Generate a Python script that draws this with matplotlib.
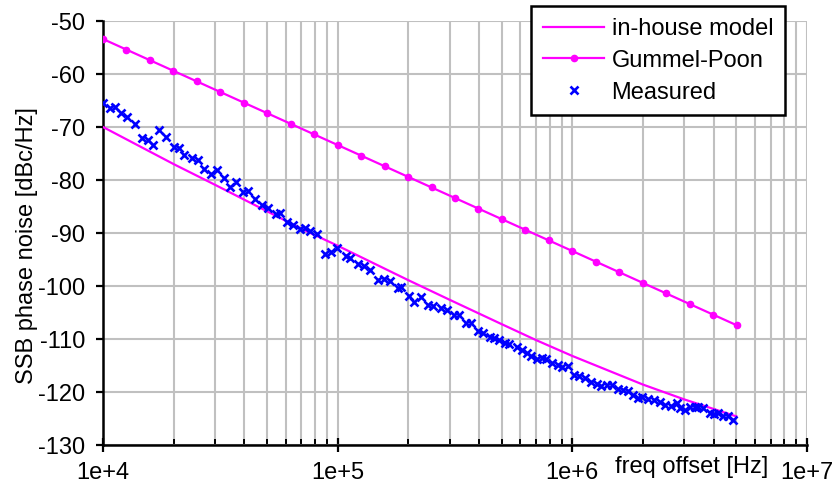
import matplotlib
matplotlib.use("Agg")
import matplotlib.pyplot as plt
from matplotlib.ticker import FixedLocator, NullFormatter

plt.rcParams["font.family"] = ["Liberation Sans", "DejaVu Sans"]
plt.rcParams["axes.unicode_minus"] = False

# Gummel-Poon simulation (one point every 0.1 decade)
gp_freq = [1e4 * 10 ** (k / 10) for k in range(28)]
gp_noise = [-53.4, -55.4, -57.4, -59.4, -61.4, -63.4, -65.4, -67.4, -69.4, -71.4,
            -73.4, -75.4, -77.4, -79.4, -81.4, -83.4, -85.4, -87.4, -89.4, -91.4,
            -93.4, -95.4, -97.4, -99.4, -101.4, -103.4, -105.4, -107.4]

# in-house model
model_freq = [1e4, 2e4, 3e4, 5e4, 7e4, 1e5, 2e5, 3e5, 5e5, 7e5,
              1e6, 2e6, 3e6, 4e6, 5e6]
model_noise = [-70.0, -77.0, -80.9, -85.9, -89.2, -92.4, -98.9, -102.6, -107.2, -110.2,
               -113.2, -118.6, -121.4, -123.2, -124.6]

# measured
meas_freq = [1.00e4, 1.07e4, 1.12e4, 1.19e4, 1.27e4, 1.37e4, 1.46e4, 1.55e4, 1.64e4, 1.74e4,
             1.86e4, 2.00e4, 2.10e4, 2.22e4, 2.39e4, 2.55e4, 2.70e4, 2.88e4, 3.05e4, 3.28e4,
             3.48e4, 3.69e4, 3.94e4, 4.16e4, 4.44e4, 4.75e4, 5.06e4, 5.46e4, 5.68e4, 6.10e4,
             6.47e4, 6.91e4, 7.26e4, 7.62e4, 8.19e4, 8.83e4, 9.33e4, 9.91e4, 1.08e5, 1.13e5,
             1.22e5, 1.30e5, 1.37e5, 1.49e5, 1.58e5, 1.67e5, 1.80e5, 1.86e5, 2.01e5, 2.12e5,
             2.26e5, 2.43e5, 2.55e5, 2.75e5, 2.91e5, 3.13e5, 3.30e5, 3.52e5, 3.69e5, 3.97e5,
             4.15e5, 4.46e5, 4.64e5, 4.89e5, 5.17e5, 5.39e5, 5.79e5, 6.08e5, 6.43e5, 6.64e5,
             7.04e5, 7.40e5, 7.72e5, 8.17e5, 8.71e5, 9.05e5, 9.55e5, 1.02e6, 1.07e6, 1.13e6,
             1.20e6, 1.27e6, 1.33e6, 1.40e6, 1.48e6, 1.57e6, 1.65e6, 1.73e6, 1.82e6, 1.91e6,
             1.99e6, 2.11e6, 2.23e6, 2.36e6, 2.48e6, 2.63e6, 2.78e6, 2.87e6, 3.01e6, 3.17e6,
             3.33e6, 3.44e6, 3.61e6, 3.86e6, 4.03e6, 4.19e6, 4.40e6, 4.59e6, 4.85e6]
meas_noise = [-65.4, -66.5, -66.3, -67.3, -68.1, -69.4, -72.1, -72.5, -73.4, -70.6,
              -71.9, -73.8, -74.0, -75.3, -75.9, -76.2, -78.0, -78.9, -78.2, -79.7,
              -81.3, -80.3, -82.2, -82.1, -83.6, -84.8, -85.3, -86.5, -86.3, -87.9,
              -88.5, -89.3, -89.1, -89.6, -90.2, -94.0, -93.6, -92.9, -94.3, -94.8,
              -95.9, -96.2, -97.0, -98.9, -98.7, -99.1, -100.3, -100.1, -101.8, -103.0,
              -102.0, -103.5, -103.7, -104.1, -104.5, -105.5, -105.5, -106.9, -107.0, -108.5,
              -108.9, -109.6, -109.9, -110.2, -110.8, -111.0, -111.6, -112.1, -112.7, -113.2,
              -113.8, -113.5, -113.8, -114.6, -114.9, -115.2, -115.0, -116.7, -116.9, -117.3,
              -118.1, -118.5, -118.8, -118.7, -118.7, -119.4, -119.6, -119.9, -120.6, -121.1,
              -120.9, -121.3, -121.5, -121.8, -122.5, -122.6, -122.1, -123.1, -123.4, -122.9,
              -122.8, -122.9, -123.1, -123.9, -124.2, -124.0, -124.5, -124.5, -125.3]

x_ticks = [1e4, 1e5, 1e6, 1e7]
x_tick_labels = ["1e+4", "1e+5", "1e+6", "1e+7"]
y_ticks = list(range(-130, -49, 10))

FS = 17
MAGENTA = "#ff00ff"
BLUE = "#0000ff"
GRID = "#c0c0c0"

fig = plt.figure(figsize=(8.33, 4.95), dpi=100)
ax = fig.add_axes([103 / 833, 1 - 445 / 495, 704 / 833, 424 / 495])

ax.plot(model_freq, model_noise, color=MAGENTA, lw=1.6, label="in-house model", zorder=3)
ax.plot(gp_freq, gp_noise, color=MAGENTA, lw=1.6, marker="o", ms=4.5,
        label="Gummel-Poon", zorder=3)
ax.plot(meas_freq, meas_noise, ls="none", marker="x", color=BLUE, ms=5.5, mew=1.9,
        label="Measured", zorder=4)

ax.set_xscale("log")
ax.set_xlim(1e4, 1e7)
ax.set_ylim(-130, -50)
ax.set_xticks(x_ticks)
ax.set_xticklabels(x_tick_labels)
ax.xaxis.set_minor_locator(FixedLocator([m * 10 ** e for e in (4, 5, 6) for m in range(2, 10)]))
ax.xaxis.set_minor_formatter(NullFormatter())
ax.set_yticks(y_ticks)

ax.grid(True, which="both", axis="x", color=GRID, lw=1.5, zorder=0)
ax.grid(True, which="major", axis="y", color=GRID, lw=1.5, zorder=0)
ax.set_axisbelow(True)

for side in ("top", "right"):
    ax.spines[side].set_visible(False)
for side in ("left", "bottom"):
    ax.spines[side].set_linewidth(1.8)
    ax.spines[side].set_color("black")

ax.tick_params(axis="y", which="major", direction="out", length=5, width=1.6,
               labelsize=FS, pad=8)
ax.tick_params(axis="x", which="major", direction="inout", length=10, width=1.6,
               labelsize=FS, pad=7)
ax.tick_params(axis="x", which="minor", direction="in", length=4, width=1.4)

ax.set_ylabel("SSB phase noise [dBc/Hz]", fontsize=FS)
ax.yaxis.set_label_coords(-0.092, 0.47)
fig.text(692 / 833, 1 - 467 / 495, "freq offset [Hz]", fontsize=FS,
         ha="center", va="center")

leg = ax.legend(loc="upper right", bbox_to_anchor=(785 / 833, 1 - 6 / 495),
                bbox_transform=fig.transFigure, borderaxespad=0, fontsize=FS,
                fancybox=False, framealpha=1, edgecolor="black",
                handlelength=2.6, handletextpad=0.3, borderpad=0.5,
                labelspacing=0.42)
leg.get_frame().set_linewidth(1.8)
leg.set_zorder(10)

fig.savefig("out.png", dpi=100)
